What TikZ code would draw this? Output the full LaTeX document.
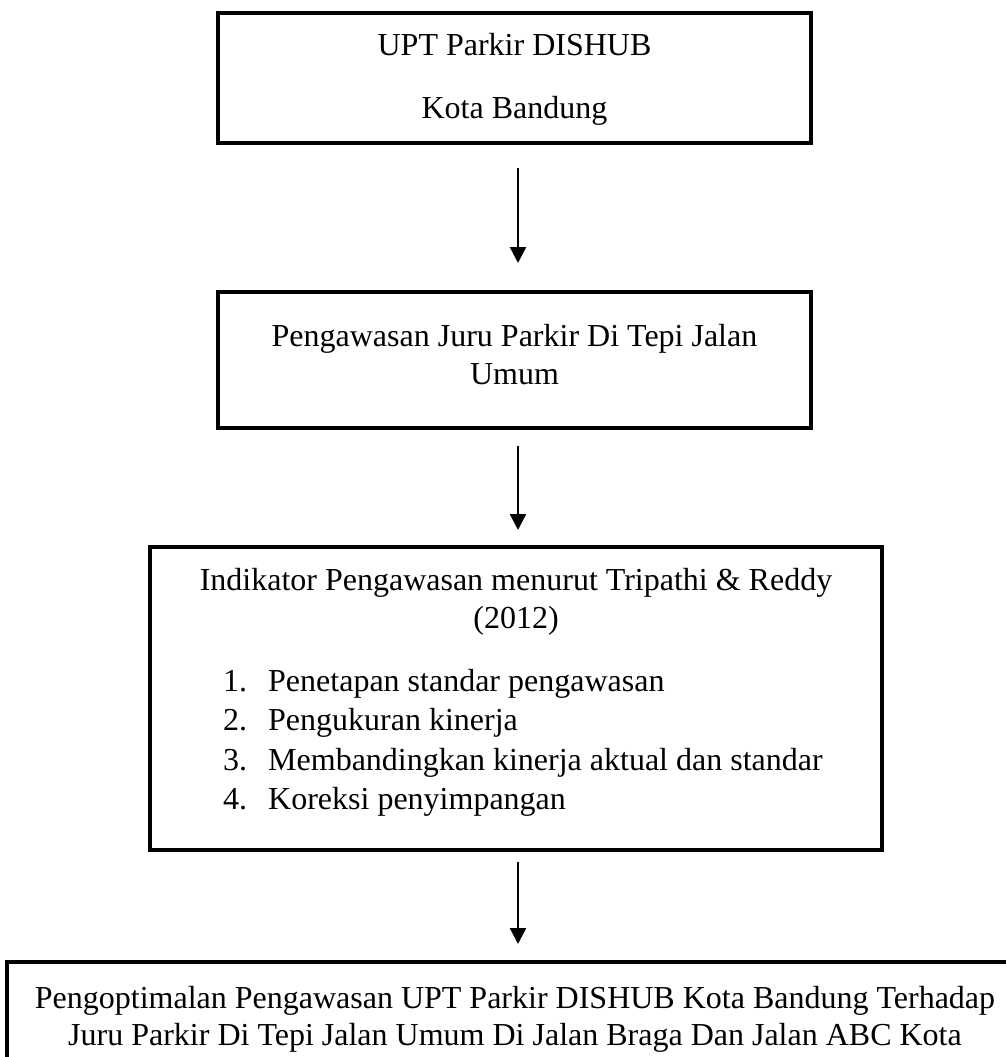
\documentclass[tikz,border=0pt]{standalone}
\usepackage{fontspec}
\setmainfont{Liberation Serif}
\usetikzlibrary{arrows.meta}
\begin{document}
\begin{tikzpicture}[x=1pt,y=-1pt,
  box/.style={draw,line width=3.3pt,rectangle,inner sep=0pt,outer sep=0pt},
  txt/.style={anchor=base,inner sep=0pt,font=\fontsize{32}{38}\selectfont},
  ltxt/.style={anchor=base west,inner sep=0pt,font=\fontsize{32}{38}\selectfont},
  arr/.style={line width=2.4pt,-{Triangle[length=16pt,width=16pt]}}]
\useasboundingbox (0,0) rectangle (1006,1057);
\clip (0,0) rectangle (1006,1057);
% boxes
\node[box,minimum width=593pt,minimum height=130pt] (b1) at (514.5,78) {};
\node[box,minimum width=593pt,minimum height=136pt] (b2) at (514.5,360) {};
\node[box,minimum width=732pt,minimum height=303pt] (b3) at (516,698.5) {};
\node[box,minimum width=1016pt,minimum height=158pt] (b4) at (515,1041) {};
% texts
\node[txt] (t1a) at (514.5,56) {UPT Parkir DISHUB};
\node[txt] (t1b) at (514.5,118) {Kota Bandung};
\node[txt] (t2a) at (514.5,346) {Pengawasan Juru Parkir Di Tepi Jalan};
\node[txt] (t2b) at (514.5,384) {Umum};
\node[txt] (t3a) at (516,590) {Indikator Pengawasan menurut Tripathi \& Reddy};
\node[txt] (t3b) at (516,628) {(2012)};
\node[ltxt] (n1) at (223,691) {1.};
\node[ltxt] (n2) at (223,730.5) {2.};
\node[ltxt] (n3) at (223,770) {3.};
\node[ltxt] (n4) at (223,809.5) {4.};
\node[ltxt] (i1) at (268,691) {Penetapan standar pengawasan};
\node[ltxt] (i2) at (268,730.5) {Pengukuran kinerja};
\node[ltxt] (i3) at (268,770) {Membandingkan kinerja aktual dan standar};
\node[ltxt] (i4) at (268,809.5) {Koreksi penyimpangan};
\node[txt] (t4a) at (515,1008) {Pengoptimalan Pengawasan UPT Parkir DISHUB Kota Bandung Terhadap};
\node[txt] (t4b) at (515,1045) {Juru Parkir Di Tepi Jalan Umum Di Jalan Braga Dan Jalan ABC Kota};
% arrows
\draw[arr,shorten <=25pt,shorten >=29pt] ([xshift=3.5pt]b1.south) -- ([xshift=3.5pt]b2.north);
\draw[arr,shorten <=18pt,shorten >=17pt] ([xshift=3.5pt]b2.south) -- ([xshift=2pt]b3.north);
\draw[arr,shorten <=12pt,shorten >=18pt] ([xshift=2pt]b3.south) -- ([xshift=3pt]b4.north);
\end{tikzpicture}
\end{document}
